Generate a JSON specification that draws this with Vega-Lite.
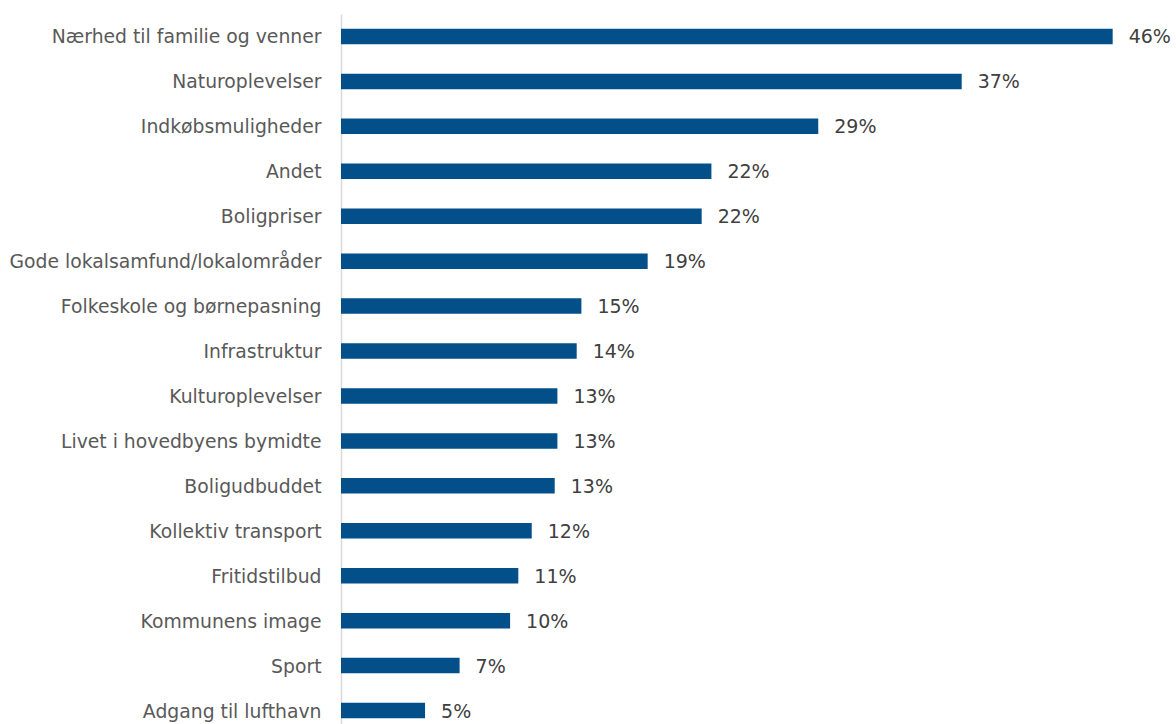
{
  "$schema": "https://vega.github.io/schema/vega-lite/v6.json",
  "width": 822,
  "height": 719,
  "autosize": {"type": "none"},
  "padding": {"left": 341, "top": 14, "right": 13, "bottom": 0},
  "background": "white",
  "config": {"view": {"stroke": null}, "font": "DejaVu Sans"},
  "data": {"values": [
    {"kategori": "Nærhed til familie og venner", "andel": 46.0, "tekst": "46%"},
    {"kategori": "Naturoplevelser", "andel": 37.0, "tekst": "37%"},
    {"kategori": "Indkøbsmuligheder", "andel": 28.45, "tekst": "29%"},
    {"kategori": "Andet", "andel": 22.08, "tekst": "22%"},
    {"kategori": "Boligpriser", "andel": 21.5, "tekst": "22%"},
    {"kategori": "Gode lokalsamfund/lokalområder", "andel": 18.28, "tekst": "19%"},
    {"kategori": "Folkeskole og børnepasning", "andel": 14.33, "tekst": "15%"},
    {"kategori": "Infrastruktur", "andel": 14.05, "tekst": "14%"},
    {"kategori": "Kulturoplevelser", "andel": 12.9, "tekst": "13%"},
    {"kategori": "Livet i hovedbyens bymidte", "andel": 12.9, "tekst": "13%"},
    {"kategori": "Boligudbuddet", "andel": 12.74, "tekst": "13%"},
    {"kategori": "Kollektiv transport", "andel": 11.37, "tekst": "12%"},
    {"kategori": "Fritidstilbud", "andel": 10.57, "tekst": "11%"},
    {"kategori": "Kommunens image", "andel": 10.08, "tekst": "10%"},
    {"kategori": "Sport", "andel": 7.07, "tekst": "7%"},
    {"kategori": "Adgang til lufthavn", "andel": 5.01, "tekst": "5%"}
  ]},
  "encoding": {
    "y": {
      "field": "kategori", "type": "nominal", "sort": null,
      "scale": {"paddingInner": 0.655, "paddingOuter": 0.3275},
      "axis": {
        "title": null, "ticks": false, "labelFontSize": 18.8, "labelColor": "#595959",
        "labelPadding": 20, "domainColor": "#d9d9d9", "domainWidth": 1.5,
        "labelFont": "DejaVu Sans", "labelLimit": 400, "labelOffset": 1
      }
    },
    "x": {
      "field": "andel", "type": "quantitative",
      "scale": {"domain": [0, 49], "nice": false},
      "axis": null
    }
  },
  "layer": [
    {"mark": {"type": "bar", "color": "#024f8a"}},
    {
      "mark": {"type": "text", "align": "left", "baseline": "middle", "dx": 16, "dy": 1, "fontSize": 19, "color": "#404040", "font": "DejaVu Sans"},
      "encoding": {"text": {"field": "tekst"}}
    }
  ]
}
